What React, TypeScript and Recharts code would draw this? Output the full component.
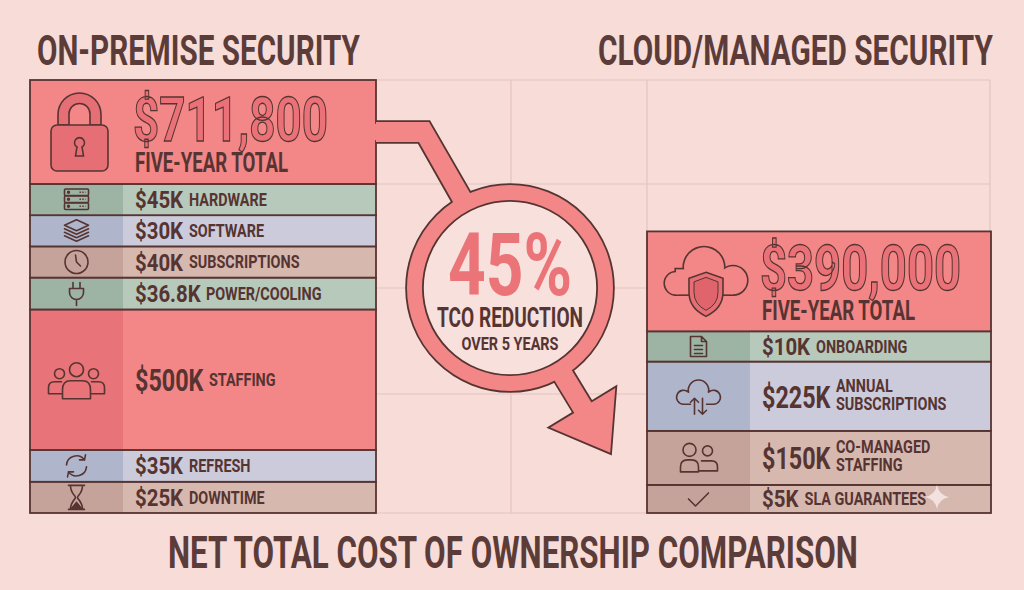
import React from "react";
import { BarChart, Bar, XAxis, YAxis } from "recharts";

const onPremLabels = ["FIVE-YEAR TOTAL", "HARDWARE", "SOFTWARE", "SUBSCRIPTIONS", "POWER/COOLING", "STAFFING", "REFRESH", "DOWNTIME"];
const onPremCosts = [711800, 45000, 30000, 40000, 36800, 500000, 35000, 25000];
const onPremIcons = ["lock", "server", "layers", "clock", "plug", "team", "refresh", "hourglass"];

const cloudLabels = ["FIVE-YEAR TOTAL", "ONBOARDING", "ANNUAL\nSUBSCRIPTIONS", "CO-MANAGED\nSTAFFING", "SLA GUARANTEES"];
const cloudCosts = [390000, 10000, 225000, 150000, 5000];
const cloudIcons = ["cloudShield", "doc", "cloudSync", "pair", "check"];

const columnTitles = ["ON-PREMISE SECURITY", "CLOUD/MANAGED SECURITY"];
const chartTitle = "NET TOTAL COST OF OWNERSHIP COMPARISON";
const badgeLines = ["TCO REDUCTION", "OVER 5 YEARS"];

// ---- layout (row heights are not proportional in the infographic) ----
const onPremRowUnits = [3.33, 1, 1, 1, 1.02, 4.5, 1.02, 1];
const cloudRowUnits = [3.2, 0.97, 2.22, 1.73, 0.9];
const onPremTones = ["red", "sage", "lilac", "tan", "sage", "red", "lilac", "tan"];
const cloudTones = ["red", "sage", "lilac", "tan", "tan"];

const W = 1024;
const H = 590;
const PLOT_TOP = 80;
const PLOT_H = 433;
const UNIT_MAX = onPremRowUnits.reduce((a, b) => a + b, 0);

const BG = "#f7dcd8";
const GRID = "#e4c4c0";
const INK = "#563432";
const TITLE = "#5c3c39";
const FONT = "Roboto, 'Liberation Sans', Arial, sans-serif";
const TONES: Record<string, { main: string; strip: string }> = {
  red: { main: "#f38687", strip: "#e87379" },
  sage: { main: "#b7c9bb", strip: "#9db3a4" },
  lilac: { main: "#cbcbdb", strip: "#afb6cb" },
  tan: { main: "#d7b8af", strip: "#c6a39a" },
};

const COLS: Record<string, any> = {
  left: {
    name: "On-Premise", labels: onPremLabels, costs: onPremCosts, icons: onPremIcons,
    units: onPremRowUnits, tones: onPremTones, x: 30, width: 346, strip: 93, textDx: 105, iconDx: 49.5, totalW: 195,
  },
  right: {
    name: "Cloud/Managed", labels: cloudLabels, costs: cloudCosts, icons: cloudIcons,
    units: cloudRowUnits, tones: cloudTones, x: 647, width: 344, strip: 103, textDx: 115, iconDx: 58, totalW: 201,
  },
};

const GLYPH: Record<string, number> = { $: 0.5615, ".": 0.268, ",": 0.23, K: 0.619 };
const textW = (s: string, size: number, sx: number) =>
  [...s].reduce((a, ch) => a + (GLYPH[ch] ?? 0.5615), 0) * size * sx;

const fmtTotal = (v: number) => "$" + v.toLocaleString("en-US");
const fmtK = (v: number) => `$${v / 1000}K`;

// text squeezed horizontally to a target width (condensed display face look)
const FitText = ({ x, y, width, anchor = "start", children, ...rest }: any) => {
  const ref = React.useRef<SVGTextElement>(null);
  const [sx, setSx] = React.useState(1);
  React.useLayoutEffect(() => {
    const el = ref.current;
    if (!el) return;
    const nat = el.getComputedTextLength();
    if (nat > 0) setSx(width / nat);
  }, [width, children]);
  return (
    <text ref={ref} transform={`translate(${x} ${y}) scale(${sx} 1)`} textAnchor={anchor}
      fontFamily={FONT} fontWeight={700} {...rest}>
      {children}
    </text>
  );
};

// one text block, several lines; the first line sets the squeeze, later lines are fitted with textLength
const StackText = ({ x, y, anchor = "start", parts }: any) => {
  const ref = React.useRef<SVGTSpanElement>(null);
  const [sx, setSx] = React.useState(1);
  React.useLayoutEffect(() => {
    const el = ref.current;
    if (!el) return;
    const nat = el.getComputedTextLength();
    if (nat > 0) setSx(parts[0].width / nat);
  }, [parts[0].text, parts[0].width]);
  return (
    <text transform={`translate(${x} ${y}) scale(${sx} 1)`} textAnchor={anchor} fontFamily={FONT} fontWeight={700}>
      {parts.map((p: any, k: number) => (
        <tspan key={k} ref={k === 0 ? ref : undefined} x={(p.dx ?? 0) / sx} dy={p.dy ?? 0} fontSize={p.size}
          textLength={k === 0 ? undefined : p.width / sx} lengthAdjust={k === 0 ? undefined : "spacingAndGlyphs"}
          fill={p.fill ?? INK} stroke={p.stroke ?? "none"} strokeWidth={p.strokeWidth ?? 0}>
          {p.text}
        </tspan>
      ))}
    </text>
  );
};

const Icon = ({ name, cx, cy }: { name: string; cx: number; cy: number }) => {
  const s = { fill: "none", stroke: INK, strokeWidth: 1.6, strokeLinecap: "round" as const, strokeLinejoin: "round" as const };
  switch (name) {
    case "lock":
      return (
        <g stroke={INK} strokeWidth={1.6} fill="#e56f75">
          <path d={`M${cx - 21.5},${cy - 7} V${cy - 17.5} A21.5 21.5 0 0 1 ${cx + 21.5},${cy - 17.5} V${cy - 7} H${cx + 10.5} V${cy - 18} A10.5 10.5 0 0 0 ${cx - 10.5},${cy - 18} V${cy - 7} Z`} />
          <rect x={cx - 28.5} y={cy - 7} width={57} height={46} rx={6} />
          <path d={`M${cx - 2.5},${cy + 15} A5 5 0 1 1 ${cx + 2.5},${cy + 15} L${cx + 4},${cy + 24} H${cx - 4} Z`} fill="none" />
        </g>
      );
    case "cloudShield": {
      const shapes = (fill: string, stroke: string | undefined) => (
        <g fill={fill} stroke={stroke} strokeWidth={stroke ? 3.2 : 0}>
          <circle cx={cx - 29} cy={cy + 2} r={11} />
          <circle cx={cx - 1} cy={cy - 14} r={20} />
          <circle cx={cx + 28} cy={cy - 1} r={14} />
          <rect x={cx - 29} y={cy - 12} width={57} height={25} />
        </g>
      );
      return (
        <g>
          {shapes(TONES.red.main, INK)}
          {shapes(TONES.red.main, undefined)}
          <path d={`M${cx + 1},${cy - 9} L${cx + 18},${cy - 3} V${cy + 11} Q${cx + 18},${cy + 27} ${cx + 1},${cy + 35} Q${cx - 16},${cy + 27} ${cx - 16},${cy + 11} V${cy - 3} Z`} fill="#e56f75" stroke={INK} strokeWidth={1.6} />
          <path d={`M${cx + 1},${cy - 4} L${cx + 13},${cy + 0.5} V${cy + 11} Q${cx + 13},${cy + 23} ${cx + 1},${cy + 29} Q${cx - 11},${cy + 23} ${cx - 11},${cy + 11} V${cy + 0.5} Z`} fill="#df646b" stroke={INK} strokeWidth={1} />
        </g>
      );
    }
    case "server":
      return (
        <g {...s}>
          {[0, 1, 2].map((i) => (
            <g key={i}>
              <rect x={cx - 12} y={cy - 10.5 + i * 7} width={24} height={6.5} rx={1} />
              <circle cx={cx - 8} cy={cy - 7.25 + i * 7} r={0.9} fill={INK} />
              <line x1={cx + 3} x2={cx + 9} y1={cy - 7.25 + i * 7} y2={cy - 7.25 + i * 7} strokeDasharray="1.4 1.4" strokeLinecap="butt" />
            </g>
          ))}
        </g>
      );
    case "layers":
      return (
        <g {...s}>
          <path d={`M${cx},${cy - 11} L${cx + 12},${cy - 5.5} L${cx},${cy} L${cx - 12},${cy - 5.5} Z`} />
          {[0, 1, 2].map((j) => (
            <path key={j} d={`M${cx - 12},${cy - 2 + 3.5 * j} L${cx},${cy + 3.5 + 3.5 * j} L${cx + 12},${cy - 2 + 3.5 * j}`} />
          ))}
        </g>
      );
    case "clock":
      return (
        <g {...s}>
          <circle cx={cx} cy={cy} r={11.5} />
          <path d={`M${cx - 1},${cy - 7} L${cx},${cy} L${cx + 4},${cy + 4}`} />
        </g>
      );
    case "plug":
      return (
        <g {...s}>
          <path d={`M${cx - 3.5},${cy - 11} V${cy - 5} M${cx + 3.5},${cy - 11} V${cy - 5} M${cx - 7},${cy - 5} H${cx + 7} V${cy - 1} A7 7 0 0 1 ${cx - 7},${cy - 1} Z M${cx},${cy + 6} V${cy + 12}`} />
        </g>
      );
    case "team":
      return (
        <g {...s}>
          <circle cx={cx} cy={cy - 10} r={7} />
          <path d={`M${cx - 14},${cy + 19} V${cy + 10} Q${cx - 14},${cy + 1} ${cx - 6},${cy + 1} H${cx + 6} Q${cx + 14},${cy + 1} ${cx + 14},${cy + 10} V${cy + 19} Z`} />
          <circle cx={cx - 17} cy={cy - 6} r={5} />
          <circle cx={cx + 17} cy={cy - 6} r={5} />
          <path d={`M${cx - 15},${cy + 14} H${cx - 28} V${cy + 8} Q${cx - 28},${cy + 2} ${cx - 22},${cy + 2} H${cx - 15}`} />
          <path d={`M${cx + 15},${cy + 14} H${cx + 28} V${cy + 8} Q${cx + 28},${cy + 2} ${cx + 22},${cy + 2} H${cx + 15}`} />
        </g>
      );
    case "refresh":
      return (
        <g {...s}>
          <path d={`M${cx - 10},${cy - 1} A10 10 0 0 1 ${cx + 8},${cy - 6}`} />
          <path d={`M${cx + 9},${cy - 11} L${cx + 8},${cy - 6} L${cx + 3},${cy - 6}`} />
          <path d={`M${cx + 10},${cy + 1} A10 10 0 0 1 ${cx - 8},${cy + 6}`} />
          <path d={`M${cx - 9},${cy + 11} L${cx - 8},${cy + 6} L${cx - 3},${cy + 6}`} />
        </g>
      );
    case "hourglass":
      return (
        <g {...s}>
          <path d={`M${cx - 8},${cy - 12} H${cx + 8} M${cx - 8},${cy + 12} H${cx + 8} M${cx - 6},${cy - 12} C${cx - 6},${cy - 4} ${cx - 1},${cy - 2} ${cx - 1},${cy} C${cx - 1},${cy + 2} ${cx - 6},${cy + 4} ${cx - 6},${cy + 12} M${cx + 6},${cy - 12} C${cx + 6},${cy - 4} ${cx + 1},${cy - 2} ${cx + 1},${cy} C${cx + 1},${cy + 2} ${cx + 6},${cy + 4} ${cx + 6},${cy + 12}`} />
          <path d={`M${cx - 5},${cy + 11} L${cx},${cy + 5} L${cx + 5},${cy + 11} Z`} fill={INK} />
        </g>
      );
    case "doc":
      return (
        <g {...s}>
          <path d={`M${cx - 8},${cy - 10} H${cx + 3} L${cx + 8},${cy - 5} V${cy + 10} H${cx - 8} Z M${cx + 3},${cy - 10} V${cy - 5} H${cx + 8}`} />
          <path d={`M${cx - 4},${cy - 1} H${cx + 4} M${cx - 4},${cy + 3} H${cx + 4} M${cx - 4},${cy + 7} H${cx + 4}`} />
        </g>
      );
    case "cloudSync":
      return (
        <g {...s}>
          <path d={`M${cx - 8},${cy + 8} H${cx - 15} A7 7 0 1 1 ${cx - 10},${cy - 4} A10.2 10.2 0 1 1 ${cx + 10},${cy - 4} A7 7 0 1 1 ${cx + 15},${cy + 8} H${cx + 8}`} />
          <path d={`M${cx - 4},${cy + 18} V${cy + 2} M${cx - 8},${cy + 6} L${cx - 4},${cy + 2} L${cx},${cy + 6}`} />
          <path d={`M${cx + 4},${cy + 2} V${cy + 18} M${cx},${cy + 14} L${cx + 4},${cy + 18} L${cx + 8},${cy + 14}`} />
        </g>
      );
    case "pair":
      return (
        <g {...s}>
          <circle cx={cx - 9} cy={cy - 8} r={6.5} />
          <circle cx={cx + 9} cy={cy - 7} r={5} />
          <path d={`M${cx - 18},${cy + 14} V${cy + 9} Q${cx - 18},${cy + 2} ${cx - 11},${cy + 2} H${cx - 7} Q${cx},${cy + 2} ${cx},${cy + 9} V${cy + 14} Z`} />
          <path d={`M${cx + 3},${cy + 3} H${cx + 13} Q${cx + 19},${cy + 3} ${cx + 19},${cy + 9} V${cy + 13} H${cx + 1}`} />
        </g>
      );
    case "check":
      return <path {...s} d={`M${cx - 10},${cy} L${cx - 3},${cy + 7} L${cx + 10},${cy - 6}`} />;
    default:
      return null;
  }
};

const Segment = (props: any) => {
  const { x, y, width: w, height: h, side, idx } = props;
  const c = COLS[side];
  const tone = TONES[c.tones[idx]];
  const cost: number = c.costs[idx];
  const label: string = c.labels[idx];
  const tx = x + c.textDx;
  if (idx === 0) {
    return (
      <g>
        <rect x={x} y={y} width={w} height={h} fill={tone.main} stroke={INK} strokeWidth={1.8} />
        <Icon name={c.icons[idx]} cx={x + c.iconDx} cy={y + h / 2} />
        <StackText x={tx - 2} y={y + h * 0.59} parts={[
          { text: fmtTotal(cost), size: 62, width: c.totalW, fill: "#ea7177", stroke: INK, strokeWidth: 1.3 },
          { text: label, size: 27, width: 153, dx: 2, dy: h * 0.295 },
        ]} />
      </g>
    );
  }
  const big = h > 45;
  const aSize = big ? 32 : 24;
  const aSx = big ? 0.73 : 0.85;
  const cy = y + h / 2;
  const amt = fmtK(cost);
  const lx = tx + textW(amt, aSize, aSx) + 7;
  const lines = label.split("\n");
  return (
    <g>
      <rect x={x} y={y} width={w} height={h} fill={tone.main} />
      <rect x={x} y={y} width={c.strip} height={h} fill={tone.strip} />
      <rect x={x} y={y} width={w} height={h} fill="none" stroke={INK} strokeWidth={1.8} />
      <Icon name={c.icons[idx]} cx={x + c.strip / 2} cy={cy} />
      <text transform={`translate(${tx} ${cy + (aSize * 0.711) / 2}) scale(${aSx} 1)`} fontSize={aSize}
        fontWeight={700} fontFamily={FONT} fill={INK}>
        {amt}
      </text>
      <text transform={`translate(${lx} ${lines.length === 1 ? cy + 6.4 : cy - 4.6}) scale(0.8 1)`}
        fontSize={18} fontWeight={700} fontFamily={FONT} fill={INK}>
        {lines.map((ln, k) => (
          <tspan key={k} x={0} dy={k === 0 ? 0 : 18}>{ln}</tspan>
        ))}
      </text>
    </g>
  );
};

const CostColumn = ({ side }: { side: string }) => {
  const c = COLS[side];
  const row: Record<string, any> = { name: c.name };
  c.units.forEach((u: number, i: number) => (row[`r${i}`] = u));
  const order = c.units.map((_: number, i: number) => i).reverse();
  return (
    <div style={{ position: "absolute", left: c.x - 2, top: PLOT_TOP - 2 }}>
      <BarChart width={c.width + 4} height={PLOT_H + 4} data={[row]}
        margin={{ top: 2, right: 2, bottom: 2, left: 2 }} barCategoryGap={0}>
        <XAxis dataKey="name" hide />
        <YAxis type="number" hide domain={[0, UNIT_MAX]} />
        {order.map((i: number) => (
          <Bar key={i} dataKey={`r${i}`} stackId="col" isAnimationActive={false}
            shape={(p: any) => <Segment {...p} side={side} idx={i} />} />
        ))}
      </BarChart>
    </div>
  );
};

const Background = () => (
  <svg width={W} height={H} style={{ position: "absolute", left: 0, top: 0 }}>
    <rect width={W} height={H} fill={BG} />
    {[80, 184, 288, 394, 513].map((gy) => (
      <line key={gy} x1={376} x2={990} y1={gy} y2={gy} stroke={GRID} strokeWidth={1.2} />
    ))}
    {[511, 647, 990].map((gx) => (
      <line key={gx} x1={gx} x2={gx} y1={80} y2={513} stroke={GRID} strokeWidth={1.2} />
    ))}
    <FitText x={37} y={65} width={323} fontSize={42} fill={TITLE}>{columnTitles[0]}</FitText>
    <FitText x={598} y={65} width={395} fontSize={42} fill={TITLE}>{columnTitles[1]}</FitText>
    <FitText x={168} y={568} width={690} fontSize={45} fill={TITLE}>{chartTitle}</FitText>
  </svg>
);

const Badge = () => {
  const reduction = Math.round((1 - cloudCosts[0] / onPremCosts[0]) * 100);
  const upper = "M376,122 L429,122 L474,200 L457,209 L419,142 L376,142";
  const lower = "M550.9,374.4 L574.3,412.9 L550.3,427.5 L610.2,452.8 L615.3,387.9 L591.4,402.5 L568,364";
  const red = TONES.red.main;
  return (
    <svg width={W} height={H} style={{ position: "absolute", left: 0, top: 0, pointerEvents: "none" }}>
      <circle cx={510} cy={288} r={90} fill="#f8e0dc" />
      <circle cx={510} cy={288} r={95.5} fill="none" stroke={INK} strokeWidth={18.6} />
      <path d={upper} fill="none" stroke={INK} strokeWidth={3.6} strokeLinejoin="miter" />
      <path d={lower} fill="none" stroke={INK} strokeWidth={3.6} strokeLinejoin="miter" />
      <circle cx={510} cy={288} r={95.5} fill="none" stroke={red} strokeWidth={15} />
      <path d={upper + " Z"} fill={red} />
      <path d={lower + " Z"} fill={red} />
      <rect x={374} y={123.8} width={4} height={16.4} fill={red} />
      <StackText x={510} y={295} anchor="middle" parts={[
        { text: `${reduction}%`, size: 88, width: 124, fill: "#eb7479" },
        { text: badgeLines[0], size: 28, width: 146, dy: 32 },
        { text: badgeLines[1], size: 19, width: 97, dy: 23 },
      ]} />
      <path d="M937,485 Q939,495 949,497 Q939,499 937,509 Q935,499 925,497 Q935,495 937,485 Z" fill="#fbefed" opacity={0.75} />
    </svg>
  );
};

export default function App() {
  return (
    <div style={{ position: "absolute", left: 0, top: 0, width: W, height: H, background: BG, overflow: "hidden" }}>
      <Background />
      <CostColumn side="left" />
      <CostColumn side="right" />
      <Badge />
    </div>
  );
}
